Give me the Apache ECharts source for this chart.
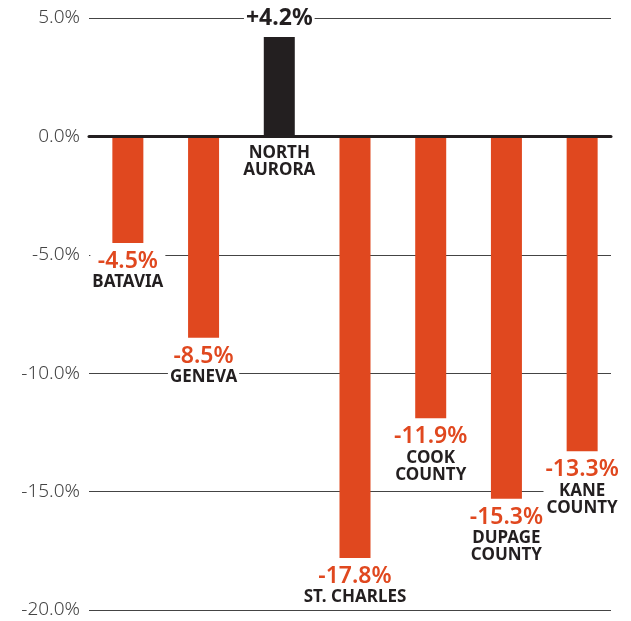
<!DOCTYPE html>
<html>
<head>
<meta charset="utf-8">
<script src="https://cdn.jsdelivr.net/npm/echarts@6/dist/echarts.min.js"></script>
<style>
  html, body { margin: 0; padding: 0; background: #fff; }
  #chart { width: 631px; height: 621px; }
</style>
</head>
<body>
<div id="chart"></div>
<script>
const places = ['BATAVIA', 'GENEVA', 'NORTH\nAURORA', 'ST. CHARLES', 'COOK\nCOUNTY', 'DUPAGE\nCOUNTY', 'KANE\nCOUNTY'];
const change = [-4.5, -8.5, 4.2, -17.8, -11.9, -15.3, -13.3];
const yTicks = [-20, -15, -10, -5, 0, 5];

const ORANGE = '#e0481f';
const INK = '#231f20';
const FONT = '"Noto Sans", "Open Sans", sans-serif';

const chart = echarts.init(document.getElementById('chart'));

// names for bars going up sit under the zero line, so they get their own label series
const upNames = change.map(v => (v > 0 ? v : '-'));

const nameStyle = { fontSize: 17, fontWeight: 700, color: INK, lineHeight: 17, fontFamily: FONT };

const option = {
  animation: false,
  backgroundColor: '#fff',
  textStyle: { fontFamily: FONT },
  grid: [
    { left: 90, right: 11, top: 18, bottom: 11 },
    { left: 89, right: 20, top: 18, bottom: 11 }
  ],
  xAxis: [
    {
      gridIndex: 0, type: 'category', data: places,
      show: false
    },
    {
      gridIndex: 1, type: 'value', min: 0, max: 1, z: 5,
      axisLine: { show: true, onZero: true, lineStyle: { color: INK, width: 3 } },
      axisTick: { show: false }, axisLabel: { show: false }, splitLine: { show: false }
    }
  ],
  yAxis: [
    { gridIndex: 0, type: 'value', min: yTicks[0], max: yTicks[yTicks.length - 1], show: false },
    {
      gridIndex: 1, type: 'value', min: yTicks[0], max: yTicks[yTicks.length - 1], interval: 5,
      axisLine: { show: false }, axisTick: { show: false },
      axisLabel: {
        margin: 9, fontSize: 19, fontWeight: 300, color: '#444', fontFamily: FONT,
        formatter: v => v.toFixed(1) + '%'
      },
      splitLine: { lineStyle: { color: '#444', width: 1 } }
    }
  ],
  series: [
    {
      type: 'bar', xAxisIndex: 0, yAxisIndex: 0,
      barWidth: 31,
      data: change.map(v => ({ value: v, itemStyle: { color: v > 0 ? INK : ORANGE } })),
      label: {
        show: true, position: 'outside', distance: 6,
        backgroundColor: '#fff', padding: [0, 2],
        formatter: p => {
          const v = p.value;
          if (v > 0) return '{p|+' + v.toFixed(1) + '%}';
          return '{v|' + v.toFixed(1) + '%}\n{n|' + p.name + '}';
        },
        rich: {
          v: { fontSize: 23, fontWeight: 600, color: ORANGE, lineHeight: 25, fontFamily: FONT },
          p: { fontSize: 23, fontWeight: 700, color: INK, lineHeight: 25, fontFamily: FONT },
          n: nameStyle
        }
      }
    },
    {
      type: 'bar', xAxisIndex: 0, yAxisIndex: 0,
      barWidth: 31, barGap: '-100%', silent: true,
      data: upNames,
      itemStyle: { color: 'rgba(0,0,0,0)' },
      label: {
        show: true, position: 'bottom', distance: 8,
        formatter: p => '{n|' + p.name + '}',
        rich: { n: nameStyle }
      }
    }
  ]
};

chart.setOption(option);
</script>
</body>
</html>
